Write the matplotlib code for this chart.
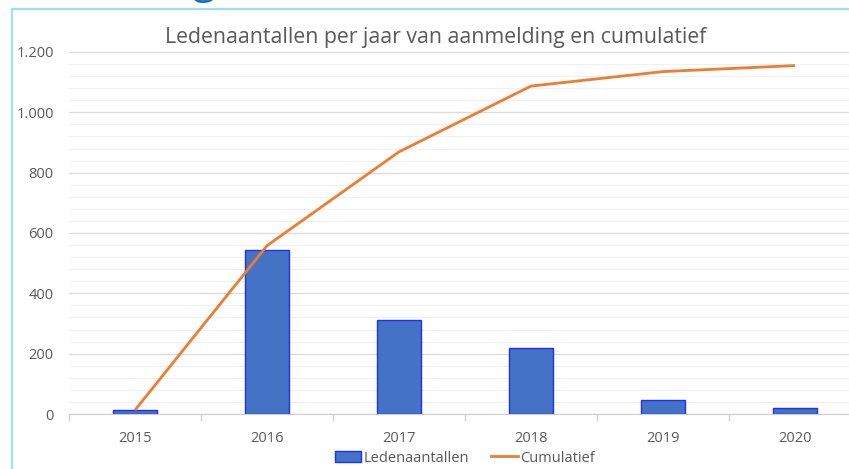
import matplotlib

matplotlib.use("Agg")
import matplotlib.pyplot as plt
from matplotlib.lines import Line2D
from matplotlib.patches import Patch
from matplotlib.ticker import FuncFormatter, MultipleLocator

# data
years = ["2015", "2016", "2017", "2018", "2019", "2020"]
leden = [13, 545, 311, 218, 48, 20]
cumulatief = [13, 558, 869, 1087, 1135, 1155]

bar_face = "#4472c4"
bar_edge = "#1f2fff"
line_col = "#ed7d31"
text_col = "#595959"
frame_col = "#9ddff4"

plt.rcParams["font.family"] = ["Open Sans", "DejaVu Sans"]

fig = plt.figure(figsize=(8.49, 4.69), dpi=100)
ax = fig.add_axes([69 / 849, 55 / 469, 792 / 849, 362 / 469])

x = range(len(years))
ax.bar(x, leden, width=0.34, color=bar_face, edgecolor=bar_edge, linewidth=1.0, zorder=3)
ax.plot(x, cumulatief, color=line_col, linewidth=2.0, zorder=4, solid_capstyle="butt")

ax.set_xlim(-0.5, len(years) - 0.5)
ax.set_ylim(0, 1200)
ax.yaxis.set_major_locator(MultipleLocator(200))
ax.yaxis.set_minor_locator(MultipleLocator(40))
ax.yaxis.set_major_formatter(FuncFormatter(lambda v, _: f"{int(v):,}".replace(",", ".")))
ax.grid(axis="y", which="major", color="#dcdcdc", linewidth=1.0, zorder=0)
ax.grid(axis="y", which="minor", color="#f0f0f0", linewidth=0.8, zorder=0)

ax.set_xticks(list(x))
ax.set_xticklabels(years)
ax.set_xticks([i - 0.5 for i in range(len(years) + 1)], minor=True)
ax.tick_params(axis="x", which="major", length=0, pad=12, labelsize=10.5, labelcolor=text_col)
ax.tick_params(axis="x", which="minor", length=5, color="#d0d0d0", width=1)
ax.tick_params(axis="y", which="both", length=0, pad=11, labelsize=10.5, labelcolor=text_col)

for side in ["top", "right", "left"]:
    ax.spines[side].set_visible(False)
ax.spines["bottom"].set_color("#d0d0d0")

fig.text(436 / 849, 1 - 38 / 469, "Ledenaantallen per jaar van aanmelding en cumulatief",
         ha="center", va="center", fontsize=15.3, color=text_col)

handles = [
    Patch(facecolor=bar_face, edgecolor=bar_edge, linewidth=1.0),
    Line2D([0], [0], color=line_col, linewidth=2.0),
]
fig.legend(handles, ["Ledenaantallen", "Cumulatief"], loc="center",
           bbox_to_anchor=(465 / 849, 1 - 458 / 469), ncol=2, frameon=False,
           fontsize=10.5, labelcolor=text_col, handlelength=1.8, handletextpad=0.2,
           columnspacing=1.5)

# slide frame and a cut-off heading glyph above it
fig.add_artist(Line2D([12 / 849, 12 / 849], [0, 1 - 9 / 469], color=frame_col, linewidth=1.6))
fig.add_artist(Line2D([12 / 849, 1], [1 - 9 / 469, 1 - 9 / 469], color=frame_col, linewidth=1.6))
fig.text(204 / 849, 1 + 7 / 469, "g", ha="center", va="baseline", fontsize=30, color="#1f6fc0")

fig.savefig("out.png", dpi=100, facecolor="white")
